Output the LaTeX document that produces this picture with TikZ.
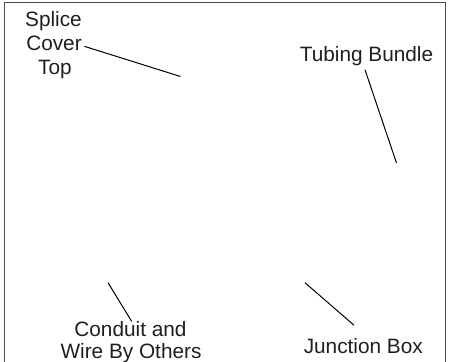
\documentclass[tikz,border=0pt]{standalone}
\usepackage{fontspec}
\setmainfont{Liberation Sans}
\begin{document}
\begin{tikzpicture}[x=1pt,y=-1pt,
  lbl/.style={anchor=base,inner sep=0pt,text=black!88,font=\fontsize{20.8}{24}\selectfont},
  leader/.style={draw=black,line width=1pt},
  frame/.style={draw=black!70,line width=1.4pt}]
\useasboundingbox (0,0) rectangle (456,362);
\draw[frame] (4.3,363) -- (4.3,2.3) -- (445.7,2.3) -- (445.7,363);
% labels
\node[lbl] (splice) at (53.5,26.7) {Splice};
\node[lbl] (cover) at (54,50) {Cover};
\node[lbl] (top) at (55,74.5) {Top};
\node[lbl] (tub) at (366.5,61.7) {Tubing Bundle};
\node[lbl] (cond) at (130.5,336.7) {Conduit and};
\node[lbl] (wire) at (131,358) {Wire By Others};
\node[lbl] (junc) at (363.3,353) {Junction Box};
% leader end points
\coordinate (pSplice) at (180.5,76.5);
\coordinate (pTub) at (396.5,163);
\coordinate (pCond) at (108,282.7);
\coordinate (pJunc) at (305,282.7);
\draw[leader] ([shift={(2.5,3.5)}]cover.east) -- (pSplice);
\draw[leader] ([shift={(-1.5,3.5)}]tub.south) -- (pTub);
\draw[leader] ([shift={(1.2,0)}]cond.north) -- (pCond);
\draw[leader] ([shift={(-9.3,-12.5)}]junc.north) -- (pJunc);
\end{tikzpicture}
\end{document}
